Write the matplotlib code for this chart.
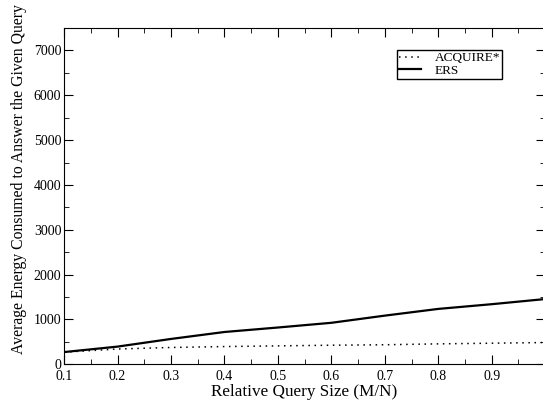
import matplotlib.pyplot as plt
from matplotlib.ticker import MultipleLocator

# relative query size (M/N)
query_size = [0.1, 0.2, 0.3, 0.4, 0.5, 0.6, 0.7, 0.8, 0.9, 1.0]

# average energy consumed
acquire = [270, 340, 375, 395, 410, 425, 435, 455, 470, 485]
ers = [272, 394, 565, 720, 820, 925, 1085, 1235, 1340, 1455]

plt.rcParams['font.family'] = ['Liberation Serif', 'DejaVu Serif']

fig = plt.figure(figsize=(5.43, 4.07), dpi=100)
ax = fig.add_axes([0.118, 0.105, 0.886, 0.826])

ax.plot(query_size, acquire, color='black', linestyle=(0, (1, 3)), linewidth=1.1, label='ACQUIRE*')
ax.plot(query_size, ers, color='black', linestyle='-', linewidth=1.6, label='ERS')

ax.set_xlim(0.1, 1.0)
ax.set_ylim(0, 7500)
ax.xaxis.set_minor_locator(MultipleLocator(0.05))
ax.yaxis.set_minor_locator(MultipleLocator(500))
ax.set_xticks([0.1, 0.2, 0.3, 0.4, 0.5, 0.6, 0.7, 0.8, 0.9])
ax.set_xticklabels(['0.1', '0.2', '0.3', '0.4', '0.5', '0.6', '0.7', '0.8', '0.9'])
ax.set_yticks([0, 1000, 2000, 3000, 4000, 5000, 6000, 7000])

ax.tick_params(which='both', direction='in', top=True, right=True, labelsize=10)
ax.tick_params(axis='x', pad=4)
ax.tick_params(axis='y', pad=2)
ax.tick_params(which='major', length=6.5)
ax.tick_params(which='minor', length=3.6)

ax.set_xlabel('Relative Query Size (M/N)', fontsize=12.3, labelpad=1)
ax.set_ylabel('Average Energy Consumed to Answer the Given Query', fontsize=11.3)
ax.yaxis.set_label_coords(-0.077, 0.55)

ax.legend(loc='upper right', bbox_to_anchor=(0.91, 0.935), borderaxespad=0, fontsize=9.5,
          frameon=True, fancybox=False, edgecolor='black', handlelength=1.7,
          borderpad=0.15, labelspacing=0.05, handletextpad=1.0, framealpha=1)

fig.savefig('out.png', dpi=100)
